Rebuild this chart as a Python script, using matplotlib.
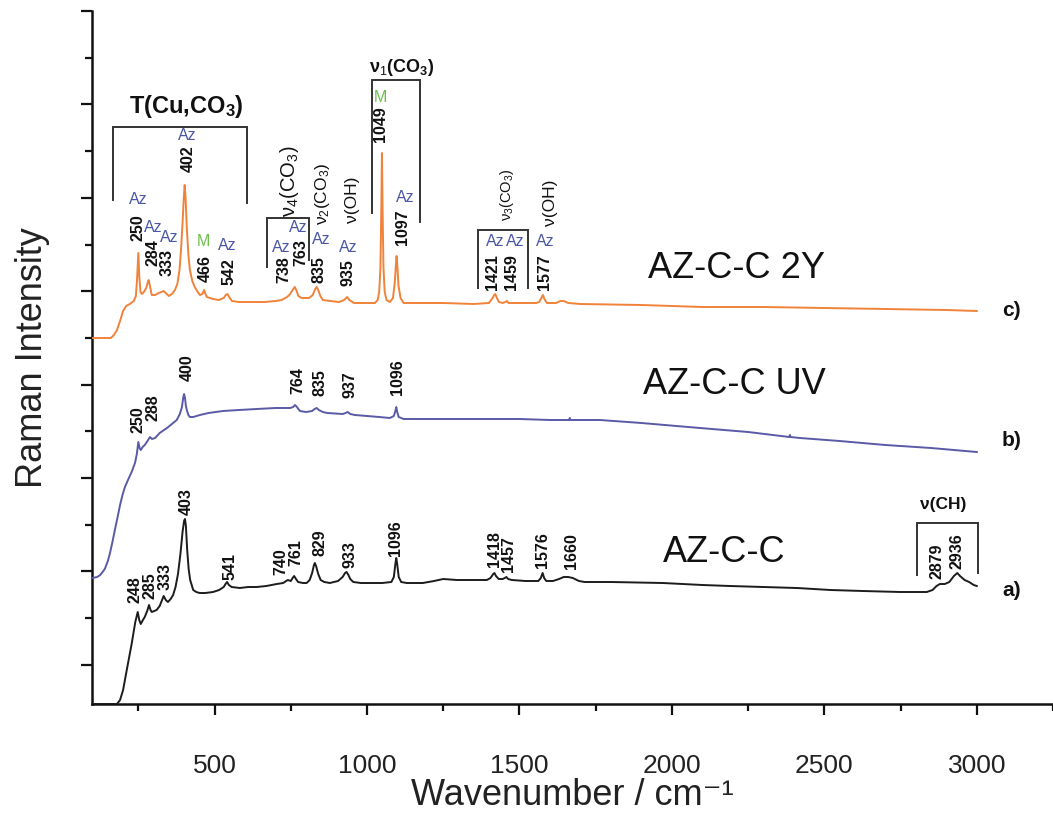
import matplotlib
matplotlib.use("Agg")
import matplotlib.pyplot as plt
from matplotlib import font_manager
from matplotlib.font_manager import FontProperties
from matplotlib.ticker import MultipleLocator


def pick_font(names):
    for name in names:
        try:
            font_manager.findfont(FontProperties(family=name), fallback_to_default=False)
            return name
        except ValueError:
            continue
    return "DejaVu Sans"


SANS = pick_font(["Liberation Sans", "Arial", "DejaVu Sans"])
NARROW = pick_font(["Liberation Sans Narrow", "Arial Narrow", SANS])

plt.rcParams["font.family"] = [SANS, "DejaVu Sans"]
plt.rcParams["mathtext.fontset"] = "custom"
plt.rcParams["mathtext.rm"] = SANS
plt.rcParams["mathtext.bf"] = SANS + ":bold"
plt.rcParams["mathtext.it"] = SANS + ":italic"

# ---------------------------------------------------------------- spectra
# a) AZ-C-C : wavenumber (cm-1) / intensity above the trace's start level
wn_a = [100, 180, 190, 200, 212, 228, 240, 248, 253, 258, 265, 271, 279, 285, 290,
        294, 302, 310, 320, 328, 333, 340, 347, 356, 364, 372, 380, 388, 395, 400,
        403, 406, 410, 415, 420, 430, 440, 451, 470, 495, 515, 530, 536, 541, 547,
        556, 583, 610, 638, 670, 704, 725, 740, 750, 756, 761, 767, 774, 790, 802,
        812, 820, 826, 829, 833, 840, 848, 860, 878, 905, 920, 928, 933, 939, 945,
        955, 980, 1000, 1050, 1080, 1088, 1093, 1096, 1099, 1104, 1112, 1130, 1183,
        1220, 1250, 1295, 1350, 1393, 1405, 1414, 1418, 1423, 1432, 1445, 1452, 1457,
        1463, 1475, 1520, 1562, 1570, 1576, 1581, 1588, 1610, 1630, 1645, 1660, 1675,
        1695, 1714, 1800, 1970, 2100, 2190, 2300, 2410, 2520, 2626, 2750, 2836, 2855,
        2868, 2879, 2895, 2910, 2925, 2936, 2945, 2960, 2975, 2990, 3000]
int_a = [0, 0, 4, 14, 34, 60, 82, 92, 84, 80, 84, 87, 93, 99, 94,
         92, 93, 94, 98, 104, 108, 104, 102, 105, 109, 117, 130, 150, 172, 183,
         185, 178, 155, 135, 124, 114, 112, 111, 111, 112, 114, 117, 120, 122, 119,
         117, 116, 117, 117, 118, 120, 121, 124, 123, 126, 128, 125, 122, 121, 121,
         124, 131, 139, 141, 138, 130, 124, 122, 121, 123, 127, 131, 132, 129, 125,
         122, 121, 121, 121, 122, 127, 140, 146, 140, 127, 122, 121, 121,
         123, 125, 124, 124, 124, 126, 130, 131, 128, 125, 125, 126, 127,
         125, 124, 123, 123, 126, 131, 126, 123, 123, 125, 127, 127, 126,
         123, 122, 122, 121, 119, 118, 117, 116, 114, 113, 112, 112, 114,
         118, 120, 120, 122, 128, 131, 128, 124, 122, 119, 118]

# b) AZ-C-C UV
wn_b = [100, 115, 125, 140, 150, 157, 165, 173, 182, 190, 198, 206, 216, 228, 239,
        245, 250, 254, 258, 264, 271, 280, 288, 295, 305, 320, 344, 360, 376, 386,
        393, 397, 400, 403, 406, 409, 414, 419, 430, 452, 480, 528, 580, 638, 700,
        748, 758, 764, 770, 780, 800, 820, 828, 835, 842, 855, 870, 920, 930, 937,
        945, 960, 1000, 1040, 1075, 1088, 1093, 1096, 1099, 1104, 1120, 1183, 1300,
        1403, 1500, 1600, 1663, 1665, 1667, 1764, 1900, 2092, 2250, 2385, 2387, 2389,
        2420, 2550, 2700, 2850, 3000]
int_b = [0, 1, 3, 9, 17, 25, 36, 48, 61, 73, 83, 91, 98, 106, 115,
         124, 136, 130, 128, 131, 133, 137, 141, 139, 140, 145, 150, 154, 158, 164,
         171, 180, 184, 180, 172, 168, 163, 161, 161, 163, 165, 167, 168, 169, 170,
         170, 171, 173, 171, 167, 166, 167, 169, 170, 168, 166, 165, 164, 165, 166,
         164, 163, 162, 161, 160, 162, 167, 171, 166, 161, 159, 159, 159,
         159, 159, 158, 158, 160, 158, 158, 155, 150, 146, 141, 143, 141,
         140, 137, 133, 130, 126]

# c) AZ-C-C 2Y
wn_c = [98, 160, 170, 180, 190, 200, 210, 222, 235, 242, 246, 250, 253, 257, 262,
        268, 276, 281, 284, 288, 294, 305, 317, 326, 333, 340, 350, 360, 370, 378,
        385, 390, 395, 399, 402, 405, 409, 414, 419, 427, 435, 445, 452, 460, 466,
        470, 475, 495, 514, 530, 537, 542, 548, 557, 580, 599, 630, 665, 700, 720,
        738, 748, 756, 763, 768, 775, 785, 810, 822, 830, 835, 840, 847, 855, 880,
        908, 925, 935, 942, 957, 990, 1026, 1035, 1040, 1044, 1047, 1049, 1051, 1054,
        1058, 1064, 1075, 1085, 1091, 1094, 1097, 1100, 1103, 1110, 1120, 1160, 1250,
        1350, 1400, 1412, 1417, 1421, 1426, 1433, 1445, 1454, 1459, 1464, 1475, 1555,
        1565, 1572, 1577, 1582, 1590, 1620, 1635, 1645, 1660, 1700, 1900, 2100, 2300,
        2500, 2700, 2900, 3000]
int_c = [0, 0, 3, 8, 17, 27, 32, 34, 37, 42, 60, 85, 62, 46, 44,
         46, 50, 56, 58, 52, 43, 43, 45, 46, 47, 45, 42, 44, 48, 54,
         68, 88, 115, 140, 153, 140, 110, 84, 68, 57, 51, 46, 43, 44, 48,
         44, 41, 39, 38, 40, 43, 44, 41, 37, 36, 36, 36, 36, 37, 38,
         41, 44, 48, 51, 48, 42, 40, 40, 43, 49, 51, 48, 42, 38, 37,
         36, 38, 41, 38, 35, 35, 35, 38, 46, 70, 130, 185, 130, 70,
         46, 38, 36, 40, 55, 70, 82, 70, 53, 40, 35, 35, 35,
         34, 35, 40, 43, 44, 40, 36, 35, 36, 37, 35, 35, 35,
         36, 40, 43, 39, 35, 35, 37, 37, 35, 34, 33, 31, 31,
         30, 29, 28, 27]

offset_a, offset_b, offset_c = 0, 126, 366

sample_names = ["AZ-C-C", "AZ-C-C UV", "AZ-C-C 2Y"]
panel_tags = ["a)", "b)", "c)"]

# labelled band positions (cm-1)
peaks_a = [248, 285, 333, 403, 541, 740, 761, 829, 933, 1096, 1418, 1457, 1576, 1660, 2879, 2936]
peaks_b = [250, 288, 400, 764, 835, 937, 1096]
peaks_c = [250, 284, 333, 402, 466, 542, 738, 763, 835, 935, 1049, 1097, 1421, 1459, 1577]
phase_c = ["Az", "Az", "Az", "Az", "M", "Az", "Az", "Az", "Az", "Az", "M", "Az", "Az", "Az", "Az"]

# ---------------------------------------------------------------- layout
num_pos_a = [(239, 114), (288, 118), (337, 128), (406, 202), (550, 137), (717, 142),
             (767, 151), (845, 161), (944, 149), (1095, 166), (1419, 155), (1465, 150),
             (1577, 154), (1672, 153), (2869, 143), (2935, 153)]
num_pos_b = [(249, 284), (298, 296), (412, 336), (773, 323), (845, 321), (944, 319), (1101, 327)]
num_pos_c = [(249, 476), (298, 451), (344, 442), (414, 545), (468, 436), (547, 432),
             (727, 434), (783, 451), (842, 434), (937, 431), (1045, 580), (1118, 477),
             (1413, 432), (1475, 432), (1583, 432)]
tag_pos_c = [(249, 504), (298, 477), (350, 466), (409, 568), (465, 463), (540, 459),
             (717, 456), (773, 477), (849, 464), (937, 456), (1045, 607), (1124, 506),
             (1419, 462), (1485, 462), (1586, 462)]

W, H = 1053, 815
fig = plt.figure(figsize=(W / 100, H / 100), dpi=100)
ax = fig.add_axes([92 / W, (H - 704) / H, (W - 92) / W, (704 - 11) / H])

colors = {"a": "#1c1c1c", "b": "#5a5aa6", "c": "#f0823a"}
ax.plot(wn_a, [v + offset_a for v in int_a], color=colors["a"], lw=1.4, zorder=3)
ax.plot(wn_b, [v + offset_b for v in int_b], color=colors["b"], lw=1.4, zorder=3)
ax.plot(wn_c, [v + offset_c for v in int_c], color=colors["c"], lw=1.4, zorder=3)

ax.set_xlim(98, 3250)
ax.set_ylim(0, 693)

for s in ("top", "right"):
    ax.spines[s].set_visible(False)
for s in ("left", "bottom"):
    ax.spines[s].set_linewidth(1.8)
    ax.spines[s].set_color("#111111")

ax.xaxis.set_major_locator(MultipleLocator(500))
ax.xaxis.set_minor_locator(MultipleLocator(250))
ax.yaxis.set_major_locator(MultipleLocator(93.4, offset=39.2))
ax.yaxis.set_minor_locator(MultipleLocator(93.4, offset=39.2 + 46.7))
ax.tick_params(axis="both", which="major", direction="out", length=8, width=1.6, color="#111111")
ax.tick_params(axis="both", which="minor", direction="out", length=5, width=1.6, color="#111111")
ax.tick_params(axis="x", which="major", labelsize=19, pad=28)
ax.tick_params(axis="y", which="both", labelleft=False)
for lab in ax.get_xticklabels():
    lab.set_fontfamily(NARROW)
    lab.set_color("#222222")

ax.set_xlabel("Wavenumber / cm⁻¹", fontsize=26, family=[NARROW, "DejaVu Sans"],
              color="#222222", labelpad=0)
ax.set_ylabel("Raman Intensity", fontsize=26, family=NARROW, color="#222222", labelpad=22)

num_kw = dict(rotation=90, ha="center", va="center", fontsize=11.5, fontweight="bold",
              color="#111111", zorder=5)
for val, (x, y) in zip(peaks_a, num_pos_a):
    ax.text(x, y, str(val), **num_kw)
for val, (x, y) in zip(peaks_b, num_pos_b):
    ax.text(x, y, str(val), **num_kw)
for val, (x, y) in zip(peaks_c, num_pos_c):
    ax.text(x, y, str(val), **num_kw)

phase_colors = {"Az": "#4a56a6", "M": "#6cbf4a"}
for ph, (x, y) in zip(phase_c, tag_pos_c):
    ax.text(x, y, ph, ha="center", va="center", fontsize=11.5, color=phase_colors[ph], zorder=5)

# vibrational assignments
assign = [("ν$_4$(CO$_3$)", 747, 523, 14.5), ("ν$_2$(CO$_3$)", 855, 510, 12.5),
          ("ν(OH)", 954, 504, 12.5), ("ν$_3$(CO$_3$)", 1459, 509, 10.5),
          ("ν(OH)", 1603, 501, 12.5)]
for txt, x, y, fs in assign:
    ax.text(x, y, txt, rotation=90, ha="center", va="center", fontsize=fs,
            color="#111111", zorder=5)

ax.text(406, 597, "T(Cu,CO$_\\mathbf{3}$)", ha="center", va="center", fontsize=17,
        fontweight="bold", color="#111111")
ax.text(1114, 636, "ν$_1$(CO$_\\mathbf{3}$)", ha="center", va="center", fontsize=13,
        fontweight="bold", color="#111111")
ax.text(2889, 199, "ν(CH)", ha="center", va="center", fontsize=12.5,
        fontweight="bold", color="#111111")

# group brackets: (x_left, x_right, top, left foot, right foot)
brackets = [(166, 606, 577, 504, 501), (672, 809, 486, 437, 444),
            (1016, 1173, 624, 491, 482), (1364, 1528, 474, 416, 416),
            (2803, 3003, 181, 129, 131)]
for x0, x1, top, y0, y1 in brackets:
    ax.plot([x0, x0, x1, x1], [y0, top, top, y1], color="#333333", lw=1.4,
            solid_joinstyle="miter", zorder=4)

# sample names and panel tags
name_pos = [(2173, 152), (2206, 319), (2213, 435)]
tag_pos = [(3115, 114), (3115, 264), (3115, 394)]
for name, (x, y) in zip(sample_names, name_pos):
    ax.text(x, y, name, ha="center", va="center", fontsize=26, color="#111111")
for tag, (x, y) in zip(panel_tags, tag_pos):
    ax.text(x, y, tag, ha="center", va="center", fontsize=15, fontweight="bold",
            color="#111111", clip_on=False)

fig.savefig("out.png", dpi=100, facecolor="white")
